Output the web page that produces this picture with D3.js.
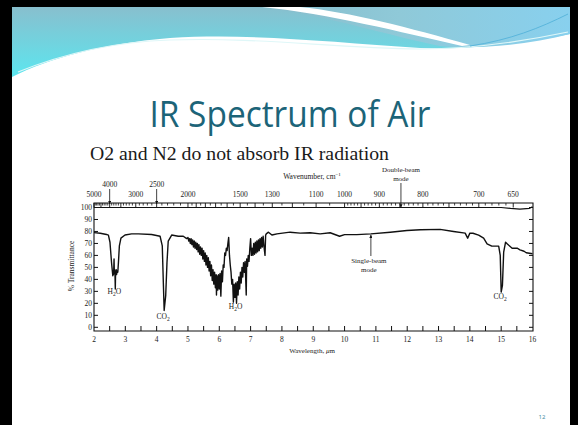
<!DOCTYPE html>
<html>
<head>
<meta charset="utf-8">
<title>IR Spectrum of Air</title>
<script src="https://cdn.jsdelivr.net/npm/d3@7"></script>
<style>
body { margin: 0; background: #000; }
svg { display: block; }
.serif { font-family: "Liberation Serif", "DejaVu Serif", serif; fill: #1a1a1a; }
</style>
</head>
<body>
<div id="chart"></div>
<script>
// single-beam trace (wavelength in um, % transmittance)
var wavelength = [
    2.00, 2.20, 2.40, 2.46, 2.51, 2.56, 2.60, 2.61, 2.62, 2.63, 2.64, 2.65, 2.66, 2.67, 2.68, 2.69, 2.70, 2.71, 2.72, 2.74, 2.76, 2.78, 2.81, 2.86, 2.99,
    3.20, 3.42, 3.84, 4.11, 4.18, 4.21, 4.24, 4.29, 4.33, 4.37, 4.48, 4.69, 4.85, 4.96,
    5.000, 5.025, 5.050, 5.075, 5.100, 5.125, 5.150, 5.175, 5.200, 5.225,
    5.250, 5.275, 5.300, 5.325, 5.350, 5.375, 5.400, 5.425, 5.450, 5.475,
    5.500, 5.525, 5.550, 5.575, 5.600, 5.625, 5.650, 5.675, 5.700, 5.725,
    5.750, 5.775, 5.800, 5.825, 5.850, 5.875, 5.900, 5.910, 5.925, 5.950,
    5.975, 6.000, 6.025, 6.050, 6.075, 6.100, 6.125, 6.150, 6.175, 6.200,
    6.225, 6.250, 6.275, 6.300, 6.325, 6.350, 6.375, 6.400, 6.425, 6.450,
    6.475, 6.500, 6.525, 6.550, 6.575, 6.600, 6.625, 6.650, 6.675, 6.700,
    6.725, 6.750, 6.775, 6.800, 6.825, 6.860, 6.875, 6.900, 6.925, 6.950,
    6.975, 7.000, 7.025, 7.050, 7.075, 7.100, 7.125, 7.150, 7.175, 7.200,
    7.225, 7.250, 7.275, 7.300, 7.325, 7.350, 7.375, 7.400, 7.425, 7.460,
    7.480, 7.500,
    7.57, 7.68, 7.84, 8.26, 8.58, 8.90, 9.22, 9.54, 9.84, 10.0, 10.39, 10.84, 11.46, 11.99, 12.42, 13.05, 13.48, 13.85, 13.93,
    14.00, 14.10, 14.28, 14.44, 14.55, 14.70, 14.92, 14.97, 15.00, 15.04, 15.08, 15.14, 15.19, 15.35, 15.51, 15.60, 15.73, 15.80, 16.00
];
var transmittance = [
    79, 78.5, 77.5, 77, 71, 54, 43, 47, 44, 48, 57, 45, 48, 44, 32, 47, 44, 48, 44, 47, 46, 54, 68, 74.4, 77,
    78, 78, 77.5, 76, 68, 40.5, 14, 26.7, 54, 72, 77, 76, 76, 74,
    75, 72, 74, 70, 74, 69, 73, 67, 72, 66,
    71, 65, 70, 63, 69, 61, 67, 60, 66, 57,
    64, 55, 62, 52, 60, 50, 58, 47, 55, 43,
    52, 39, 48, 36, 46, 33, 44, 27, 43, 31,
    44, 32, 45, 26, 47, 38, 52, 50, 62, 60,
    66, 64, 70, 75, 60, 52, 46, 36, 40, 21,
    36, 25, 37, 20, 38, 27, 42, 32, 46, 37,
    50, 42, 54, 46, 55, 27, 57, 51, 60, 55,
    66, 74, 60, 66, 60, 70, 61, 71, 62, 72,
    63, 73, 64, 74, 66, 75, 67, 76, 68, 60,
    77, 78,
    79.4, 77, 78, 79.4, 78.6, 78.9, 78, 78.9, 76, 77.4, 77.4, 78, 79.4, 80.8, 81.4, 81.7, 80, 78.6, 74.4,
    78.6, 78.5, 77, 74.4, 69.7, 67.8, 67.8, 60, 29.4, 35, 62.8, 71, 69.7, 66, 66, 64.7, 63.5, 62.2, 61.4
];

// double-beam trace, sits on the 100 % line
var doubleWl = [2, 15.0, 15.3, 15.6, 15.9, 16];
var doubleT = [100, 100, 99.2, 98.6, 99.3, 100.6];

var yTicks = d3.range(0, 101, 10);
var xTicks = d3.range(2.5, 16, 0.5);
var xLabels = d3.range(2, 17, 1);
var wnLabels = [5000, 3000, 2000, 1500, 1300, 1100, 1000, 900, 800, 700, 650];
var wnArrows = [4000, 2500];

var bands = [
    { pre: "H", sub: "2", post: "O", wl: 2.68, t: 28 },
    { pre: "CO", sub: "2", post: "", wl: 4.24, t: 7 },
    { pre: "H", sub: "2", post: "O", wl: 6.55, t: 15 },
    { pre: "CO", sub: "2", post: "", wl: 15.0, t: 24 }
];

var W = 578, H = 425;

var svg = d3.select("#chart").append("svg")
    .attr("width", W)
    .attr("height", H);

// ---- slide background + header swoosh ----
var defs = svg.append("defs");
var g1 = defs.append("linearGradient").attr("id", "hdr").attr("x1", 0).attr("y1", 0).attr("x2", 1).attr("y2", 0);
g1.append("stop").attr("offset", "0%").attr("stop-color", "#86bccb");
g1.append("stop").attr("offset", "45%").attr("stop-color", "#8fc9d8");
g1.append("stop").attr("offset", "100%").attr("stop-color", "#88d0ee");
var g2 = defs.append("linearGradient").attr("id", "cyan").attr("x1", 0).attr("y1", 0).attr("x2", 0).attr("y2", 1);
g2.append("stop").attr("offset", "0%").attr("stop-color", "#88bfce");
g2.append("stop").attr("offset", "100%").attr("stop-color", "#5ce6ef");

svg.append("rect").attr("x", 12).attr("y", 7).attr("width", 558).attr("height", H - 7).attr("fill", "#fff");

svg.append("path")
    .attr("d", "M12,7 H570 V34 C520,44 470,50 420,48 C330,42 250,33 170,38 C100,44 50,58 12,77 Z")
    .attr("fill", "url(#cyan)");
svg.append("path")
    .attr("d", "M260,7 H570 V34 C530,44 480,50 440,46 C390,36 330,16 260,7 Z")
    .attr("fill", "url(#hdr)");
// white streak
svg.append("path")
    .attr("d", "M262,7 C330,14 400,32 462,46 L470,45 C410,28 350,12 300,7 Z")
    .attr("fill", "#fff");
// thin light wave line
svg.append("path")
    .attr("d", "M18,72 C60,55 110,42 170,40 C260,37 330,48 420,49 C480,49 530,40 568,32")
    .attr("fill", "none").attr("stroke", "#dff7f8").attr("stroke-width", 1.2);
svg.append("path")
    .attr("d", "M470,46 C510,40 540,28 568,14")
    .attr("fill", "none").attr("stroke", "#5ab6dc").attr("stroke-width", 1);

// title
svg.append("text")
    .attr("x", 290).attr("y", 127)
    .attr("text-anchor", "middle")
    .attr("textLength", 281).attr("lengthAdjust", "spacingAndGlyphs")
    .style("font-family", "'Open Sans', sans-serif")
    .style("font-size", "37px")
    .style("fill", "#1c6478")
    .text("IR Spectrum of Air");

svg.append("text")
    .attr("class", "serif")
    .attr("x", 90).attr("y", 160)
    .attr("textLength", 299).attr("lengthAdjust", "spacingAndGlyphs")
    .style("font-size", "18px")
    .text("O2 and N2 do not absorb IR radiation");

svg.append("text")
    .attr("x", 542).attr("y", 419)
    .attr("text-anchor", "middle")
    .style("font-family", "'Open Sans', sans-serif")
    .style("font-size", "6px")
    .style("fill", "#3a8aa0")
    .text("12");

// ---- spectrum ----
var x = d3.scaleLinear().domain([2, 16]).range([94, 532.5]);
var y = d3.scaleLinear().domain([0, 100]).range([327.3, 207.5]);
var bandTop = 203, frameBottom = 331, left = 94, right = 533;

var chart = svg.append("g");

// frame
chart.append("path")
    .attr("d", "M" + left + "," + bandTop + "H" + right + "V" + frameBottom + "H" + left + "Z")
    .attr("fill", "none").attr("stroke", "#111").attr("stroke-width", 1.1);

// left / right % ticks
chart.selectAll(".yt").data(yTicks).enter().append("line")
    .attr("x1", left).attr("x2", left + 4)
    .attr("y1", d => y(d)).attr("y2", d => y(d))
    .attr("stroke", "#111");
chart.selectAll(".yt2").data(yTicks).enter().append("line")
    .attr("x1", right - 4).attr("x2", right)
    .attr("y1", d => y(d)).attr("y2", d => y(d))
    .attr("stroke", "#111");
chart.selectAll(".yl").data(yTicks).enter().append("text")
    .attr("class", "serif")
    .attr("x", left - 2).attr("y", d => y(d) + 2.5)
    .attr("text-anchor", "end")
    .style("font-size", "7.5px")
    .text(d => d);

// bottom wavelength ticks
chart.selectAll(".xt").data(xTicks).enter().append("line")
    .attr("x1", d => x(d)).attr("x2", d => x(d))
    .attr("y1", frameBottom).attr("y2", frameBottom - 5)
    .attr("stroke", "#111");
chart.selectAll(".xl").data(xLabels).enter().append("text")
    .attr("class", "serif")
    .attr("x", d => x(d)).attr("y", 342)
    .attr("text-anchor", "middle")
    .style("font-size", "7.5px")
    .text(d => d);

// top wavenumber band
var wnMajor = d3.range(5000, 1999, -500)
    .concat(d3.range(1900, 999, -100))
    .concat(d3.range(950, 649, -50));
var wnMinor = d3.range(4900, 2000, -100)
    .concat(d3.range(1950, 1000, -50))
    .concat(d3.range(990, 650, -10))
    .filter(d => wnMajor.indexOf(d) < 0);
var wnX = d => x(10000 / d);

chart.selectAll(".wmaj").data(wnMajor).enter().append("line")
    .attr("x1", wnX).attr("x2", wnX)
    .attr("y1", bandTop).attr("y2", y(100))
    .attr("stroke", "#111").attr("stroke-width", 0.9);
chart.selectAll(".wmin").data(wnMinor).enter().append("line")
    .attr("x1", wnX).attr("x2", wnX)
    .attr("y1", bandTop).attr("y2", bandTop + 2.5)
    .attr("stroke", "#111").attr("stroke-width", 0.8);
chart.selectAll(".wl").data(wnLabels).enter().append("text")
    .attr("class", "serif")
    .attr("x", wnX).attr("y", 197)
    .attr("text-anchor", "middle")
    .style("font-size", "7.5px")
    .text(d => d);
chart.selectAll(".wa").data(wnArrows).enter().append("text")
    .attr("class", "serif")
    .attr("x", wnX).attr("y", 187)
    .attr("text-anchor", "middle")
    .style("font-size", "7.5px")
    .text(d => d);

defs.append("marker")
    .attr("id", "ah").attr("viewBox", "0 0 6 6").attr("refX", 6).attr("refY", 3)
    .attr("markerWidth", 4).attr("markerHeight", 4).attr("orient", "auto")
  .append("path").attr("d", "M0,0 L6,3 L0,6 Z").attr("fill", "#111");

chart.selectAll(".warr").data(wnArrows).enter().append("line")
    .attr("x1", wnX).attr("x2", wnX)
    .attr("y1", 189).attr("y2", bandTop + 1)
    .attr("stroke", "#111").attr("stroke-width", 0.8)
    .attr("marker-end", "url(#ah)");

chart.append("text")
    .attr("class", "serif")
    .attr("x", 312).attr("y", 179)
    .attr("text-anchor", "middle")
    .style("font-size", "7.5px")
    .html("Wavenumber, cm<tspan dy='-3' font-size='5px'>\u22121</tspan>");

// traces
var line = d3.line().x(d => x(d[0])).y(d => y(d[1]));
chart.append("path")
    .datum(d3.zip(doubleWl, doubleT))
    .attr("d", line)
    .attr("fill", "none").attr("stroke", "#111").attr("stroke-width", 1.2);
chart.append("path")
    .datum(d3.zip(wavelength, transmittance))
    .attr("d", line)
    .attr("fill", "none").attr("stroke", "#111").attr("stroke-width", 1.4)
    .attr("stroke-linejoin", "round");

// band labels (with subscript 2)
var bl = chart.selectAll(".bl").data(bands).enter().append("text")
    .attr("class", "serif")
    .attr("x", d => x(d.wl) - 1).attr("y", d => y(d.t))
    .attr("text-anchor", "middle")
    .style("font-size", "7.5px");
bl.append("tspan").text(d => d.pre);
bl.append("tspan").attr("dy", 2).style("font-size", "5.5px").text(d => d.sub);
bl.append("tspan").attr("dy", -2).text(d => d.post);

// mode annotations
var dbl = 11.8, sgl = 10.84;
chart.append("text").attr("class", "serif")
    .attr("x", x(dbl)).attr("y", 172).attr("text-anchor", "middle")
    .style("font-size", "7px").text("Double-beam");
chart.append("text").attr("class", "serif")
    .attr("x", x(dbl)).attr("y", 181).attr("text-anchor", "middle")
    .style("font-size", "7px").text("mode");
chart.append("line")
    .attr("x1", x(dbl)).attr("x2", x(dbl))
    .attr("y1", 183).attr("y2", y(100))
    .attr("stroke", "#111").attr("stroke-width", 0.8)
    .attr("marker-end", "url(#ah)");

chart.append("text").attr("class", "serif")
    .attr("x", x(sgl) - 2).attr("y", 263).attr("text-anchor", "middle")
    .style("font-size", "7px").text("Single-beam");
chart.append("text").attr("class", "serif")
    .attr("x", x(sgl) - 2).attr("y", 272).attr("text-anchor", "middle")
    .style("font-size", "7px").text("mode");
chart.append("line")
    .attr("x1", x(sgl)).attr("x2", x(sgl))
    .attr("y1", 256).attr("y2", y(78) + 1)
    .attr("stroke", "#111").attr("stroke-width", 0.8)
    .attr("marker-end", "url(#ah)");

// axis titles
chart.append("text").attr("class", "serif")
    .attr("x", 312).attr("y", 353).attr("text-anchor", "middle")
    .style("font-size", "7px")
    .html("Wavelength, <tspan font-style='italic'>\u03bc</tspan>m");
chart.append("text").attr("class", "serif")
    .attr("transform", "translate(74,266) rotate(-90)")
    .attr("text-anchor", "middle")
    .style("font-size", "7.5px")
    .text("% Transmittance");
</script>
</body>
</html>
